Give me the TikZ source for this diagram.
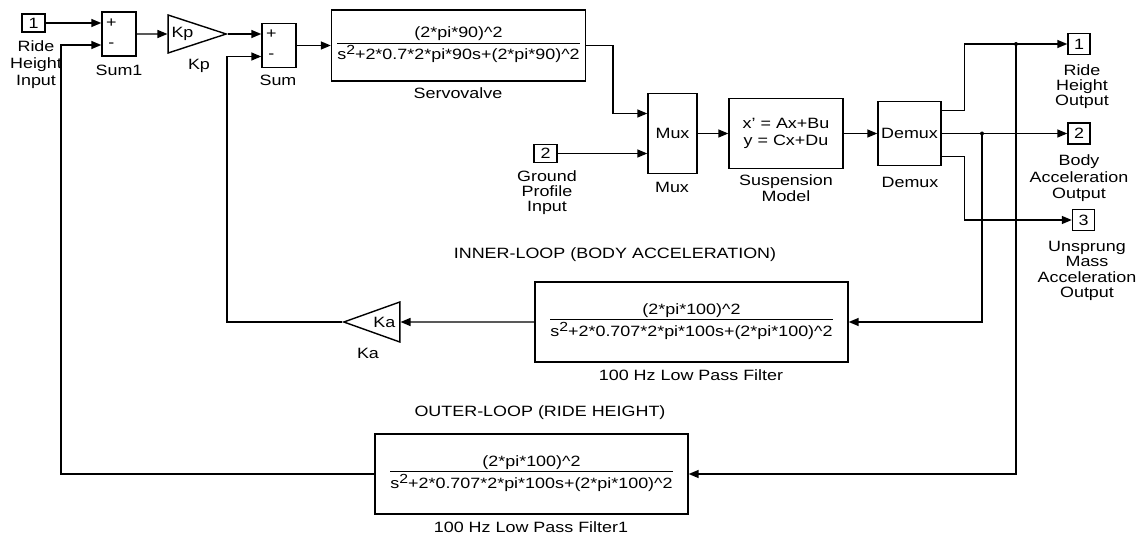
\documentclass[tikz,border=0pt]{standalone}
\usepackage{fontspec}
\setmainfont{Liberation Sans}[FakeStretch=1.2]
\usetikzlibrary{shapes.geometric, arrows.meta, calc}
\tikzset{
	blk/.style={rectangle, draw=black, line width=0.8pt, inner sep=0pt},
	port/.style={rectangle, draw=black, line width=0.8pt, inner sep=0pt, minimum width=0.46cm, minimum height=0.36cm},
	outport/.style={port, minimum width=0.44cm, minimum height=0.42cm},
	gain/.style={isosceles triangle, isosceles triangle stretches, draw=black, line width=0.8pt, inner sep=1pt},
	lbl/.style={align=center, inner sep=0pt},
	sig/.style={-{Triangle[length=2mm, width=1.6mm]}, line width=0.8pt},
	dot/.style={circle, fill=black, inner sep=0pt, minimum size=0.08cm},
}
% transfer function text: numerator over denominator
\newcommand{\xfer}[2]{{\setlength{\arrayrulewidth}{0.7pt}\begin{tabular}{@{}c@{}}#1\\\hline\rule{0pt}{9pt}#2\end{tabular}}}
\newcommand{\caret}{\textasciicircum}
\newcommand{\sqr}{\raisebox{2.6pt}{\fontsize{7.5}{8}\selectfont 2}}

\begin{document}
\begin{tikzpicture}[x=0.02cm, y=-0.02cm, every node/.style={font=\fontsize{8.5}{9}\selectfont}]
	\useasboundingbox (0,0) rectangle (1140,537);

	% forward path
	\node[port] (in1) at (33.5,23) {1};
	\node[blk, minimum width=0.68cm, minimum height=0.88cm] (sum1) at (119,34) {};
	\node[gain, minimum height=1.16cm, minimum width=0.74cm, anchor=apex] (kp) at (228,34) {Kp};
	\node[blk, minimum width=0.68cm, minimum height=0.88cm] (sum) at (279,45.5) {};
	\node[blk, minimum width=5.08cm, minimum height=1.42cm] (servo) at (458.5,45.5)
		{\xfer{(2*pi*90)\caret 2}{s\sqr+2*0.7*2*pi*90s+(2*pi*90)\caret 2}};
	\node[blk, minimum width=0.98cm, minimum height=1.6cm] (mux) at (672.5,133.5) {Mux};
	\node[port] (in2) at (545.5,153.5) {2};
	\node[blk, minimum width=2.28cm, minimum height=1.4cm, align=center, font=\fontsize{8.5}{9.7}\selectfont] (susp) at (786,133.5) {x' = Ax+Bu\\y = Cx+Du};
	\node[blk, minimum width=1.26cm, minimum height=1.28cm] (demux) at (909.5,133.5) {Demux};
	\node[outport] (out1) at (1079,44) {1};
	\node[outport] (out2) at (1079,133.5) {2};
	\node[outport] (out3) at (1083.5,220) {3};

	% feedback path
	\node[blk, minimum width=6.26cm, minimum height=1.6cm] (lpfA) at (691.5,322)
		{\xfer{(2*pi*100)\caret 2}{s\sqr+2*0.707*2*pi*100s+(2*pi*100)\caret 2}};
	\node[gain, shape border rotate=180, minimum height=1.12cm, minimum width=0.8cm, anchor=apex] (ka) at (342,322) {Ka};
	\node[blk, minimum width=6.26cm, minimum height=1.6cm] (lpfB) at (531.5,474)
		{\xfer{(2*pi*100)\caret 2}{s\sqr+2*0.707*2*pi*100s+(2*pi*100)\caret 2}};

	% signs
	\node at ($(sum1.west)+(10,-11)$) {+};
	\node at ($(sum1.west)+(10,11)$) {-};
	\node at ($(sum.west)+(10,-11)$) {+};
	\node at ($(sum.west)+(10,11)$) {-};

	% branch points and corners
	\coordinate (j1) at (1016,44);
	\coordinate (j2) at (982,133.5);
	\coordinate (c1) at (613,45.5);
	\coordinate (c2) at (227,322);
	\coordinate (c3) at (61,474);

	\draw[sig] (in1) -- (in1 -| sum1.west);
	\draw[sig] (sum1.east) -- (kp.west);
	\draw[sig] (kp.apex) -- (kp.apex -| sum.west);
	\draw[sig] (sum) -- (servo);
	\draw[sig] (servo.east) -- (c1) |- ($(mux.west)+(0,-20)$);
	\draw[sig] (in2) -- (in2 -| mux.west);
	\draw[sig] (mux) -- (susp);
	\draw[sig] (susp) -- (demux);
	\draw[sig] ($(demux.east)+(0,-23)$) -- ++(23,0) |- (out1);
	\draw[sig] (demux) -- (out2);
	\draw[sig] ($(demux.east)+(0,23)$) -- ++(23,0) |- (out3);
	\draw[sig] (j2) |- (lpfA);
	\draw[sig] (lpfA) -- (ka);
	\draw[sig] (ka.apex) -- (c2) |- ($(sum.west)+(0,11)$);
	\draw[sig] (j1) |- (lpfB);
	\draw[sig] (lpfB) -- (c3) |- ($(sum1.west)+(0,11)$);
	\node[dot] at (j1) {};
	\node[dot] at (j2) {};

	% labels
	\node[lbl, anchor=north, font=\fontsize{8.5}{9.7}\selectfont] (in1lbl) at (36,40.5) {Ride\\Height\\Input};
	\node[lbl] (sum1lbl) at (119,70) {Sum1};
	\node[lbl] (kplbl) at (199,66) {Kp};
	\node[lbl] (sumlbl) at (278,80) {Sum};
	\node[lbl] (servolbl) at (458,93) {Servovalve};
	\node[lbl] (muxlbl) at (672,187) {Mux};
	\node[lbl, anchor=north, font=\fontsize{8.5}{8.6}\selectfont] (in2lbl) at (547,170.6) {Ground\\Profile\\Input};
	\node[lbl, anchor=north, font=\fontsize{8.5}{7.3}\selectfont] (susplbl) at (786,174.6) {Suspension\\Model};
	\node[lbl] (demuxlbl) at (910,182) {Demux};
	\node[lbl, anchor=north, font=\fontsize{8.5}{8.6}\selectfont] (out1lbl) at (1082,64.6) {Ride\\Height\\Output};
	\node[lbl, anchor=north, font=\fontsize{8.5}{9.3}\selectfont] (out2lbl) at (1079,154.6) {Body\\Acceleration\\Output};
	\node[lbl, anchor=north, font=\fontsize{8.5}{8.8}\selectfont] (out3lbl) at (1087,240.6) {Unsprung\\Mass\\Acceleration\\Output};
	\node[lbl] (kalbl) at (368,353) {Ka};
	\node[lbl] (innerlbl) at (615,255) {INNER-LOOP (BODY ACCELERATION)};
	\node[lbl] (outerlbl) at (540,413) {OUTER-LOOP (RIDE HEIGHT)};
	\node[lbl] (lpfAlbl) at (691,375) {100 Hz Low Pass Filter};
	\node[lbl] (lpfBlbl) at (531,527) {100 Hz Low Pass Filter1};
\end{tikzpicture}
\end{document}
